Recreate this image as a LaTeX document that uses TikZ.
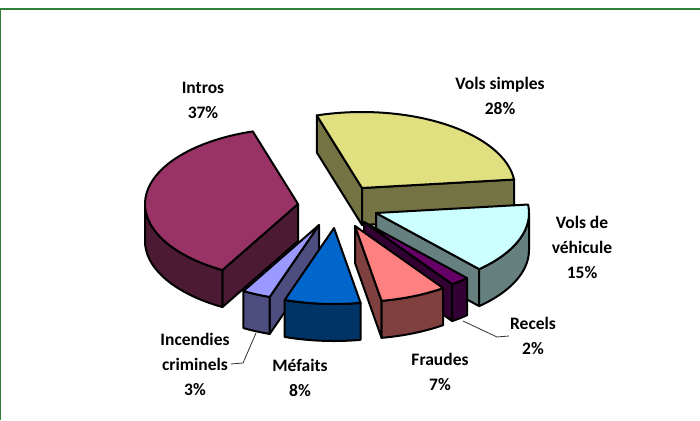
\documentclass[tikz,border=0pt]{standalone}
\usepackage{fontspec}
\setmainfont{Carlito}
\definecolor{framegreen}{HTML}{31803A}
\definecolor{introtop}{HTML}{993366}\definecolor{introside}{HTML}{4D1A33}
\definecolor{vstop}{HTML}{E0E080}\definecolor{vsside}{HTML}{737344}
\definecolor{vvtop}{HTML}{CCFFFF}\definecolor{vvside}{HTML}{668080}
\definecolor{rtop}{HTML}{660066}\definecolor{rside}{HTML}{330033}
\definecolor{ftop}{HTML}{FF8080}\definecolor{fside}{HTML}{804040}
\definecolor{mtop}{HTML}{0066CC}\definecolor{mside}{HTML}{003366}
\definecolor{itop}{HTML}{9999FF}\definecolor{iside}{HTML}{4D4D80}
% top face: apex x, apex y, angle1, angle2, colour
\newcommand{\slicetop}[5]{%
  \filldraw[piece,fill=#5] (#1,#2) -- ({#1+153*sin(#3)},{#2-76*cos(#3)})
    -- plot[domain=#3:#4,samples=40,variable=\t] ({#1+153*sin(\t)},{#2-76*cos(\t)}) -- cycle;}
% radial face: apex x, apex y, angle, colour
\newcommand{\sliceside}[4]{%
  \filldraw[piece,fill=#4] (#1,#2) -- ({#1+153*sin(#3)},{#2-76*cos(#3)})
    -- ({#1+153*sin(#3)},{#2+37-76*cos(#3)}) -- (#1,{#2+37}) -- cycle;}
% outer face: apex x, apex y, from, to, colour
\newcommand{\sliceouter}[5]{%
  \filldraw[piece,fill=#5] plot[domain=#3:#4,samples=40,variable=\t] ({#1+153*sin(\t)},{#2-76*cos(\t)})
    -- plot[domain=#4:#3,samples=40,variable=\t] ({#1+153*sin(\t)},{#2+37-76*cos(\t)}) -- cycle;}
\tikzset{
  piece/.style={draw=black,line width=2pt,line join=round},
  lab/.style={align=center,font=\fontsize{17.5}{25}\selectfont\bfseries,inner sep=1pt},
  leader/.style={draw=black!80,line width=0.8pt}
}
\begin{document}
\begin{tikzpicture}[x=1pt,y=-1pt]
\useasboundingbox (0,0) rectangle (700,420);
\fill[white] (0,0) rectangle (700,420);
% frame
\draw[framegreen,line width=2.2pt] (0,9) -- (700,9);
\draw[framegreen,line width=1.4pt] (0.7,9) -- (0.7,420);
% Vols simples
\sliceside{362}{188}{-17.2}{vsside}
\sliceside{362}{188}{83.6}{vsside}
\slicetop{362}{188}{-17.2}{83.6}{vstop}
% Intros
\sliceside{298}{204}{209.6}{introside}
\sliceouter{298}{204}{209.6}{270}{introside}
\slicetop{298}{204}{209.6}{342.8}{introtop}
% Vols de vehicule
\sliceside{376}{213}{137.6}{vvside}
\sliceouter{376}{213}{90}{137.6}{vvside}
\slicetop{376}{213}{83.6}{137.6}{vvtop}
% Recels
\sliceside{364}{222}{144.8}{rside}
\sliceouter{364}{222}{137.6}{144.8}{rside}
\slicetop{364}{222}{137.6}{144.8}{rtop}
% Fraudes
\sliceside{355}{226}{170}{fside}
\sliceouter{355}{226}{144.8}{170}{fside}
\slicetop{355}{226}{144.8}{170}{ftop}
% Incendies criminels
\sliceside{319}{225}{198.8}{iside}
\sliceouter{319}{225}{198.8}{209.6}{iside}
\slicetop{319}{225}{198.8}{209.6}{itop}
% Mefaits
\sliceouter{334}{228}{170}{198.8}{mside}
\slicetop{334}{228}{170}{198.8}{mtop}
% labels
\node[lab] (lIntros) at (203,100) {Intros\\37\%};
\node[lab] (lVS) at (500,96) {Vols simples\\28\%};
\node[lab] (lVV) at (582,247) {Vols de\\véhicule\\15\%};
\node[lab] (lRec) at (533,336) {Recels\\2\%};
\node[lab] (lFra) at (440,372) {Fraudes\\7\%};
\node[lab] (lMef) at (300,378) {Méfaits\\8\%};
\node[lab] (lInc) at (195,364) {Incendies\\criminels\\3\%};
% leaders
\coordinate (recTip) at (463,321);
\coordinate (recKnee) at (497,337);
\coordinate (incTip) at (256,333);
\coordinate (incKnee) at (243,363);
\draw[leader] (lRec.west) -- (recKnee) -- (recTip);
\draw[leader] (lInc.east) -- (incKnee) -- (incTip);
\end{tikzpicture}
\end{document}
